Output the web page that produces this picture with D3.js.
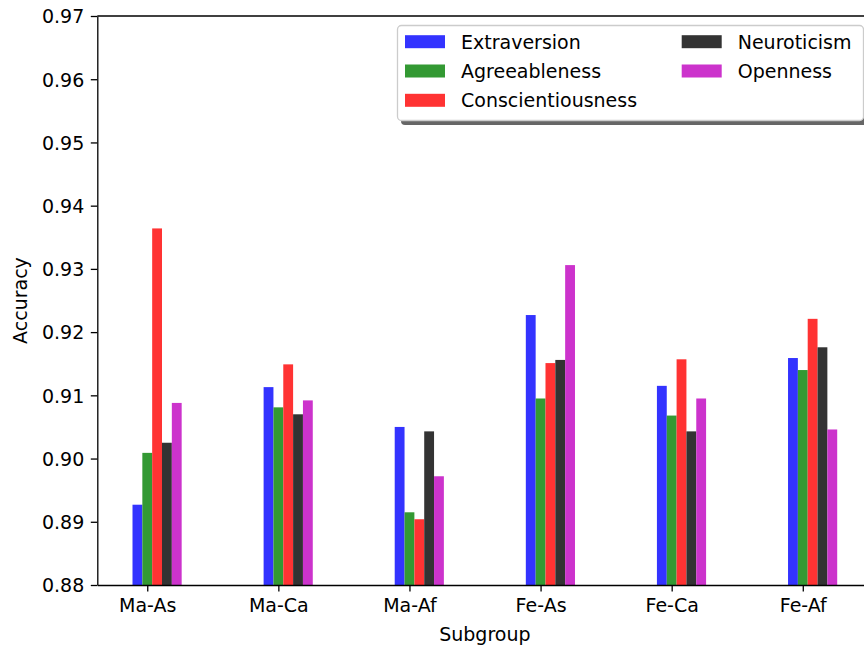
<!DOCTYPE html>
<html lang="en">
<head>
<meta charset="UTF-8">
<title>Accuracy by Subgroup</title>
<script src="https://cdn.jsdelivr.net/npm/d3@7"></script>
<style>
    body { margin: 0; background: #fff; }
    text { font-family: "DejaVu Sans", sans-serif; fill: #000; }
    .axis path, .axis line { stroke: #000; stroke-width: 1.3; }
</style>
</head>
<body>
<script>
// values
var subgroups = ["Ma-As", "Ma-Ca", "Ma-Af", "Fe-As", "Fe-Ca", "Fe-Af"];
var traits = ["Extraversion", "Agreeableness", "Conscientiousness", "Neuroticism", "Openness"];
var extraversion      = [0.8927, 0.9113, 0.9050, 0.9227, 0.9115, 0.9159];
var agreeableness     = [0.9009, 0.9081, 0.8915, 0.9095, 0.9068, 0.9140];
var conscientiousness = [0.9364, 0.9149, 0.8904, 0.9151, 0.9157, 0.9221];
var neuroticism       = [0.9025, 0.9070, 0.9043, 0.9156, 0.9043, 0.9176];
var openness          = [0.9088, 0.9092, 0.8972, 0.9306, 0.9095, 0.9046];
var yTicks = [0.88, 0.89, 0.90, 0.91, 0.92, 0.93, 0.94, 0.95, 0.96, 0.97];

var series = [extraversion, agreeableness, conscientiousness, neuroticism, openness];
var colors = ["#3333ff", "#339933", "#ff3333", "#333333", "#cc33cc"];

var barW = 0.075;
var fs = 19;

// note: "top" is taken by window.top, so plot edges get their own names
var plotL = 97.3, plotR = 872.4, plotT = 16, plotB = 585;

var svg = d3.select("body").append("svg")
    .attr("width", 864)
    .attr("height", 648);

var x = d3.scaleLinear().domain([-0.381, 5.531]).range([plotL, plotR]);
var y = d3.scaleLinear().domain([0.88, 0.97]).range([plotB, plotT]);

// bars, one series after another, offsets -1..3 bar widths from the tick
series.forEach(function(vals, s) {
    svg.append("g").selectAll("rect")
        .data(vals)
        .enter()
        .append("rect")
        .attr("x", function(d, i) { return x(i + (s - 1) * barW - barW / 2); })
        .attr("width", x(barW) - x(0))
        .attr("y", function(d) { return y(d); })
        .attr("height", function(d) { return y(0.88) - y(d); })
        .attr("fill", colors[s]);
});

// axes
var xAxis = d3.axisBottom(x)
    .tickValues(d3.range(subgroups.length))
    .tickFormat(function(i) { return subgroups[i]; })
    .tickSize(6.5).tickPadding(6.5).tickSizeOuter(0);
var yAxis = d3.axisLeft(y)
    .tickValues(yTicks)
    .tickFormat(d3.format(".2f"))
    .tickSize(6.5).tickPadding(6.5).tickSizeOuter(0);

svg.append("g").attr("class", "axis")
    .attr("transform", "translate(0," + plotB + ")")
    .call(xAxis)
    .selectAll("text").style("font-size", fs + "px").attr("dy", "0.75em");
svg.append("g").attr("class", "axis")
    .attr("transform", "translate(" + plotL + ",0)")
    .call(yAxis)
    .selectAll("text").style("font-size", fs + "px").attr("dy", "0.36em");

// top and right spines
svg.append("line").attr("x1", plotL).attr("x2", plotR).attr("y1", plotT).attr("y2", plotT)
    .attr("stroke", "#000").attr("stroke-width", 1.3);
svg.append("line").attr("x1", plotR).attr("x2", plotR).attr("y1", plotT).attr("y2", plotB)
    .attr("stroke", "#000").attr("stroke-width", 1.3);

// axis labels
svg.append("text")
    .attr("x", (plotL + plotR) / 2).attr("y", 641)
    .attr("text-anchor", "middle")
    .style("font-size", fs + "px")
    .text("Subgroup");
svg.append("text")
    .attr("transform", "translate(27," + (plotT + plotB) / 2 + ") rotate(-90)")
    .attr("text-anchor", "middle")
    .style("font-size", fs + "px")
    .text("Accuracy");

// legend with shadow
var lg = svg.append("g");
lg.append("rect")
    .attr("x", 401).attr("y", 29).attr("width", 466).attr("height", 96)
    .attr("rx", 4).attr("fill", "#666");
lg.append("rect")
    .attr("x", 397.5).attr("y", 25.5).attr("width", 466).attr("height", 95)
    .attr("rx", 4).attr("fill", "#fff").attr("stroke", "#ccc").attr("stroke-width", 1.3);

var colX = [405, 681.7];
var rowY = [41.7, 71, 100.3];
traits.forEach(function(t, k) {
    var c = k < 3 ? 0 : 1, r = k < 3 ? k : k - 3;
    lg.append("rect")
        .attr("x", colX[c]).attr("y", rowY[r] - 6.5)
        .attr("width", 40).attr("height", 13)
        .attr("fill", colors[k]);
    lg.append("text")
        .attr("x", colX[c] + 56).attr("y", rowY[r])
        .attr("dy", "0.36em")
        .style("font-size", fs + "px")
        .text(t);
});
</script>
</body>
</html>
